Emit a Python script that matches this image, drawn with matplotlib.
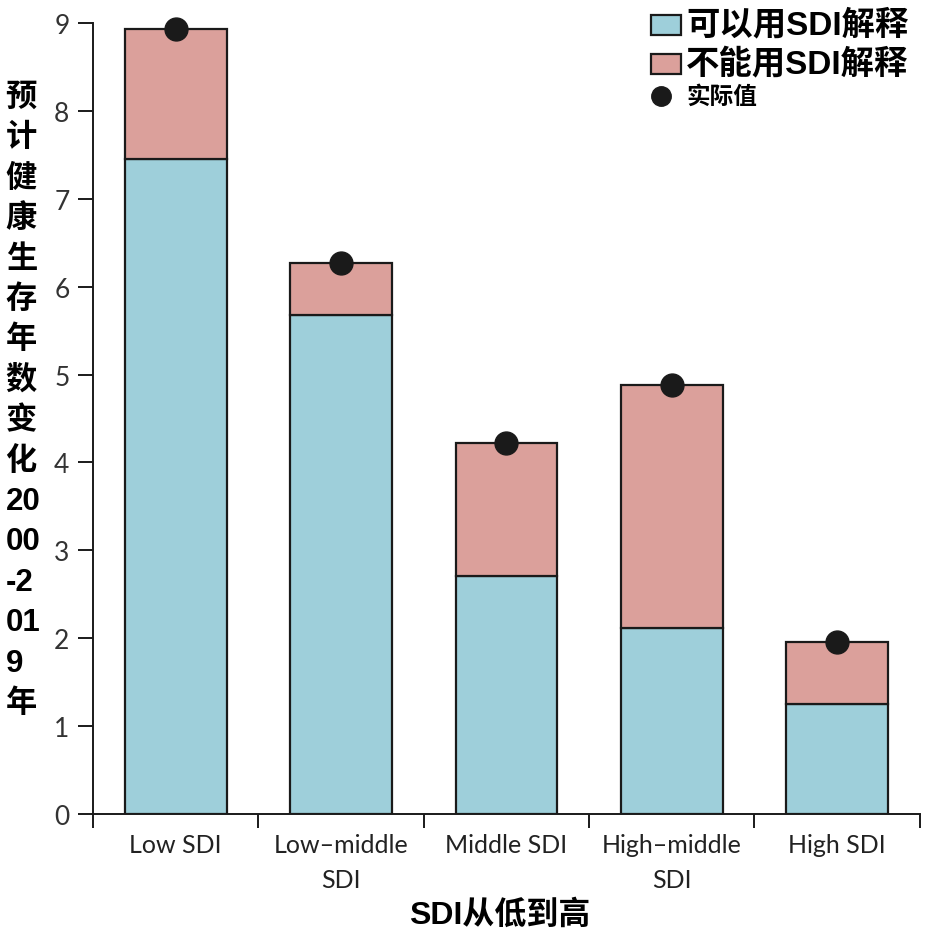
import numpy as np
import matplotlib
matplotlib.use("Agg")
import matplotlib.pyplot as plt
from matplotlib.patches import Rectangle
from matplotlib.lines import Line2D

# data
categories = ["Low SDI", "Low\u2013middle\nSDI", "Middle SDI", "High\u2013middle\nSDI", "High SDI"]
explained = [7.45, 5.68, 2.71, 2.12, 1.25]
unexplained = [1.48, 0.59, 1.51, 2.76, 0.71]
observed = [8.93, 6.27, 4.22, 4.88, 1.96]

blue = "#9ecfda"
pink = "#dba09b"
dark = "#1a1a1a"
cjk_bold = ["Liberation Sans", "Noto Sans CJK SC"]

W, H = 930, 937
fig = plt.figure(figsize=(W / 100, H / 100), dpi=100)
ax = fig.add_axes([0.1, 0.1302, 0.889, 0.8442])

x = np.arange(len(categories)) + 0.5
w = 0.615
ax.bar(x, explained, w, color=blue, edgecolor=dark, linewidth=1.6, zorder=2)
ax.bar(x, unexplained, w, bottom=explained, color=pink, edgecolor=dark, linewidth=1.6, zorder=2)
ax.plot(x, observed, "o", color=dark, markersize=16.5, zorder=3, clip_on=False)

ax.set_xlim(0, len(categories))
ax.set_ylim(0, 9)
ax.set_yticks(range(10))
ax.set_xticks(range(len(categories) + 1))
ax.set_xticklabels([])
ax.set_xticks(x, minor=True)
ax.set_xticklabels(categories, minor=True, fontsize=18, family="Lato", linespacing=1.6)
ax.tick_params(axis="x", which="minor", length=0, pad=14)
ax.tick_params(axis="x", which="major", direction="out", length=10, width=1.4, color=dark)
ax.tick_params(axis="y", direction="out", length=11, width=1.4, color=dark, pad=6,
               labelsize=19)
for t in ax.get_yticklabels():
    t.set_family("Lato")
    t.set_color("#333333")
for t in ax.get_xticklabels(minor=True):
    t.set_color("#222222")

for s in ["top", "right"]:
    ax.spines[s].set_visible(False)
for s in ["left", "bottom"]:
    ax.spines[s].set_linewidth(1.4)
    ax.spines[s].set_color(dark)

# vertical y label, one character per line
ylab_lines = list("预计健康生存年数变化") + ["20", "00", "-2", "01", "9", "年"]
fig.text(0.006, 1 - 401 / H, "\n".join(ylab_lines), family=cjk_bold, fontweight="bold",
         fontsize=22.5, linespacing=1.45, ha="left", va="center", multialignment="left")

fig.text(0.537, 1 - 915 / H, "SDI从低到高", family=cjk_bold, fontweight="bold",
         fontsize=23, ha="center", va="center")

# legend drawn by hand in figure pixels (top-left origin)
def fx(px):
    return px / W

def fy(py):
    return 1 - py / H

legend_items = [("可以用SDI解释", blue, 26, 24), ("不能用SDI解释", pink, 65, 24)]
for label, col, cy, fs in legend_items:
    fig.add_artist(Rectangle((fx(651), fy(cy + 10)), fx(30), 20 / H, transform=fig.transFigure,
                             facecolor=col, edgecolor=dark, linewidth=1.6))
    fig.text(fx(686), fy(cy), label, family=cjk_bold, fontweight="bold", fontsize=fs,
             ha="left", va="center")
fig.add_artist(Line2D([fx(661)], [fy(97)], marker="o", color=dark, markersize=14,
                      transform=fig.transFigure))
fig.text(fx(686), fy(97), "实际值", family=cjk_bold, fontweight="bold", fontsize=17,
         ha="left", va="center")

fig.savefig("out.png", dpi=100)
